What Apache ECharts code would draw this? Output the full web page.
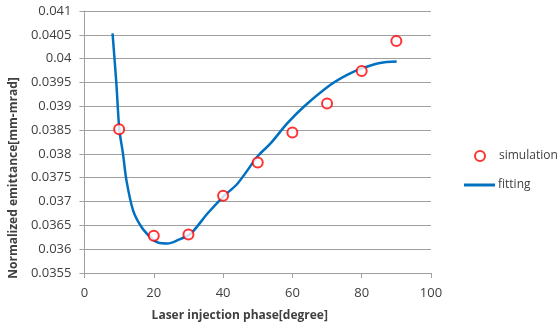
<!DOCTYPE html>
<html>
<head>
<meta charset="utf-8">
<script src="https://cdn.jsdelivr.net/npm/echarts@6/dist/echarts.min.js"></script>
<style>
  html, body { margin: 0; padding: 0; background: #fff; }
  #chart { width: 558px; height: 334px; }
</style>
</head>
<body>
<div id="chart"></div>
<script>
// simulation points
var simPhase = [10, 20, 30, 40, 50, 60, 70, 80, 90];
var simEmit = [0.03852, 0.03628, 0.03631, 0.03712, 0.03782, 0.03845, 0.03906, 0.03974, 0.04037];

// fitting curve
var fitPhase = [8.1, 9.2, 10.05, 11.1, 12.1, 14.0, 16.4, 19.3, 21.2, 24.0, 26.9, 30.7, 35.5, 40.0, 44.2, 50.1, 53.7, 58.5, 63.3, 71.0, 75.8, 80.2, 85.3, 90.1];
var fitEmit = [0.04053, 0.03948, 0.03852, 0.03801, 0.03745, 0.03682, 0.03647, 0.03623, 0.03614, 0.03612, 0.03619, 0.03633, 0.03675, 0.0371, 0.03738, 0.03796, 0.03822, 0.03864, 0.03899, 0.03945, 0.03966, 0.0398, 0.03991, 0.03994];

var font = 'Open Sans';
var textColor = '#404040';

function pairs(xs, ys) {
    var out = [];
    for (var i = 0; i < xs.length; i++) {
        out.push([xs[i], ys[i]]);
    }
    return out;
}

var chart = echarts.init(document.getElementById('chart'));
var option = {
    animation: false,
    grid: { left: 83, right: 127, top: 11, bottom: 61 },
    legend: [
        {
            data: [{ name: 'simulation', icon: 'emptyCircle' }],
            left: 474, top: 150, padding: 0,
            itemWidth: 10, itemHeight: 10,
            itemStyle: { borderWidth: 1 },
            textStyle: { fontFamily: font, fontSize: 12, color: textColor, padding: [0, 0, 0, 9] }
        },
        {
            data: [{ name: 'fitting', icon: 'rect' }],
            left: 464, top: 179, padding: 0,
            itemWidth: 31, itemHeight: 3,
            textStyle: { fontFamily: font, fontSize: 12, color: textColor, padding: [0, 0, 0, -2] }
        }
    ],
    xAxis: {
        type: 'value',
        min: 0, max: 100, interval: 20,
        name: 'Laser injection phase[degree]',
        nameLocation: 'middle',
        nameGap: 37,
        nameTextStyle: { fontFamily: font, fontSize: 12, fontWeight: 'bold', color: textColor, padding: [0, 36, 0, 0] },
        axisLine: { show: true, lineStyle: { color: '#a0a0a0', width: 1 } },
        axisTick: { show: true, length: 5, lineStyle: { color: '#a0a0a0' } },
        axisLabel: { margin: 14, fontFamily: font, fontSize: 13, color: textColor },
        splitLine: { show: false }
    },
    yAxis: {
        type: 'value',
        min: 0.0355, max: 0.041, interval: 0.0005,
        name: 'Normalized emittance[mm-mrad]',
        nameLocation: 'middle',
        nameGap: 60,
        nameTextStyle: { fontFamily: font, fontSize: 12, fontWeight: 'bold', color: textColor, padding: [0, 72, 0, 0] },
        axisLine: { show: true, lineStyle: { color: '#a0a0a0', width: 1 } },
        axisTick: { show: true, length: 5, lineStyle: { color: '#a0a0a0' } },
        axisLabel: {
            margin: 13, fontFamily: font, fontSize: 13, color: textColor,
            formatter: function (v) { return String(parseFloat(v.toFixed(4))); }
        },
        splitLine: { show: true, lineStyle: { color: '#a0a0a0', width: 1 } }
    },
    series: [
        {
            name: 'simulation',
            type: 'scatter',
            symbol: 'emptyCircle',
            symbolSize: 10,
            itemStyle: { color: '#ff0000', borderColor: '#ff0000', borderWidth: 1 },
            data: pairs(simPhase, simEmit),
            z: 3
        },
        {
            name: 'fitting',
            type: 'line',
            showSymbol: false,
            smooth: 0.3,
            lineStyle: { color: '#0070c0', width: 2.5 },
            itemStyle: { color: '#0070c0' },
            data: pairs(fitPhase, fitEmit),
            z: 2
        }
    ]
};
chart.setOption(option);
</script>
</body>
</html>
